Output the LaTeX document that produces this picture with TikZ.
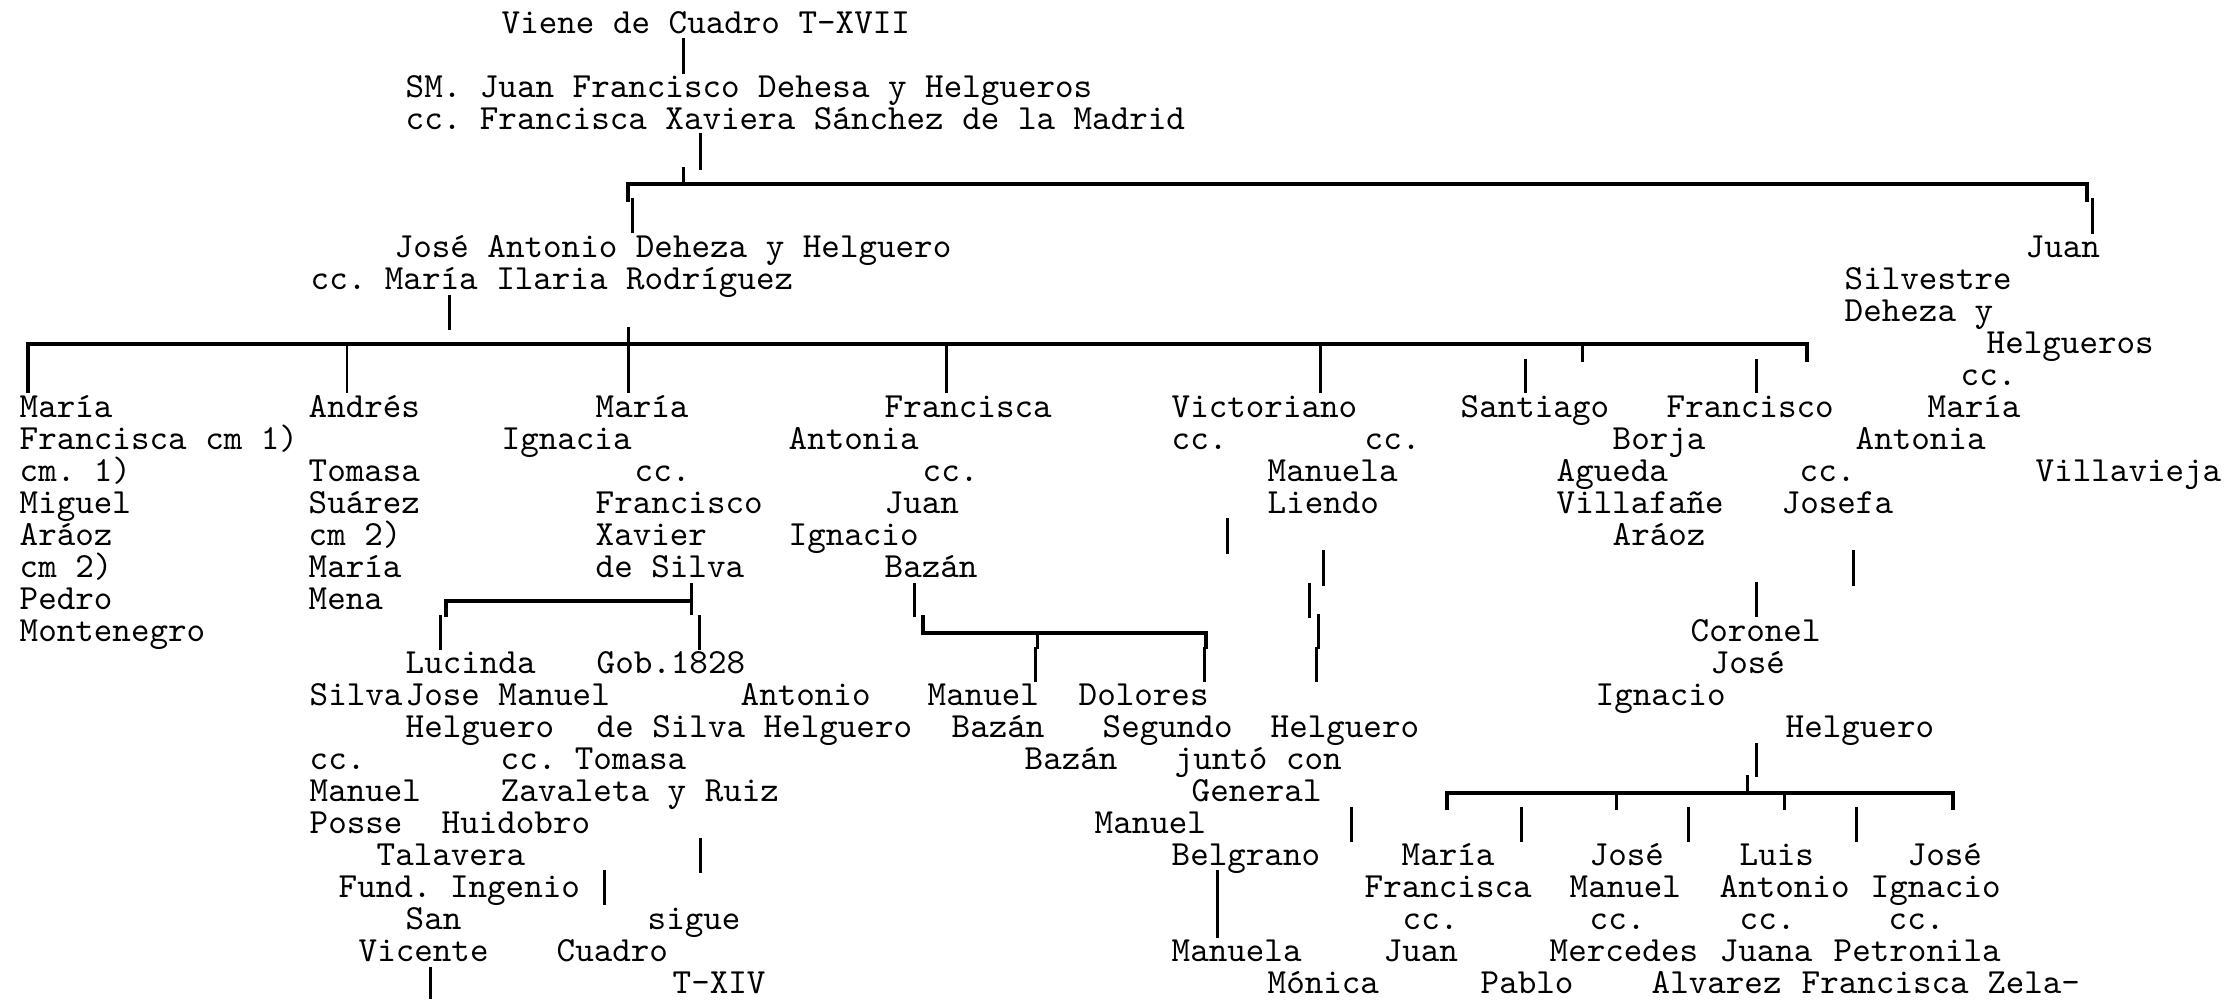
\documentclass[tikz,border=0pt]{standalone}
\usepackage{fontspec}
\usepackage{tikz}
\usepackage{xcolor}

\tikzset{
  nm/.style={anchor=base west, inner sep=0pt, font=\ttfamily\frenchspacing\fontsize{10.05pt}{12pt}\selectfont},
  stub/.style={line width=0.85pt},
  bus/.style={line width=1.1pt, line join=miter}
}

\begin{document}
\begin{tikzpicture}[x=0.01cm, y=-0.01cm]
    \useasboundingbox (0,0) rectangle (2230,999);

    % Head of the table
    \node[nm] (viene) at (501,33) {Viene de Cuadro T-XVII};
    \node[nm] (sm) at (405,97) {SM. Juan Francisco Dehesa y Helgueros};
    \node[nm] (smcc) at (405,129) {cc. Francisca Xaviera Sánchez de la Madrid};
    \draw[stub] (683,38) -- (683,74);
    \draw[stub] (700,133) -- (700,170);
    \draw[stub] (683,167) -- (683,184);
    \coordinate (topL) at (628,184);
    \coordinate (topR) at (2087,184);
    \draw[bus] (628,202) -- (topL) -- (topR) -- (2087,202);
    \draw[stub] (632,198) -- (632,233);
    \draw[stub] (2092,198) -- (2092,234);

    % Jose Antonio and Juan Silvestre
    \node[nm] (joseant) at (394,257) {José Antonio Deheza y Helguero};
    \node[nm] (joseantcc) at (310,289) {cc. María Ilaria Rodríguez};
    \node[nm] (juan1) at (2025,257) {Juan};
    \node[nm] (juan2) at (1844,289) {Silvestre};
    \node[nm] (juan3) at (1844,321) {Deheza y};
    \node[nm] (juan4) at (1986,353) {Helgueros};
    \node[nm] (juan5) at (1960,385) {cc.};
    \node[nm] (juan6) at (1927,417) {María};
    \node[nm] (juan7) at (1855,449) {Antonia};
    \node[nm] (juan8) at (2035,481) {Villavieja};
    \draw[stub] (449,295) -- (449,330);
    \draw[stub] (628,327) -- (628,393);
    \coordinate (midL) at (28,344);
    \coordinate (midR) at (1807,344);
    \draw[bus] (28,393) -- (midL) -- (midR) -- (1807,362);
    \foreach \x in {347,946,1320} \draw[stub] (\x,344) -- (\x,393);
    \draw[stub] (1582,344) -- (1582,362);
    \foreach \x in {1525,1756} \draw[stub] (\x,359) -- (\x,393);

    % Maria Francisca
    \node[nm] (mf1) at (19,417) {María};
    \node[nm] (mf2) at (19,449) {Francisca cm 1)};
    \node[nm] (mf3) at (19,481) {cm. 1)};
    \node[nm] (mf4) at (19,513) {Miguel};
    \node[nm] (mf5) at (19,545) {Aráoz};
    \node[nm] (mf6) at (19,577) {cm 2)};
    \node[nm] (mf7) at (19,609) {Pedro};
    \node[nm] (mf8) at (19,641) {Montenegro};

    % Andres
    \node[nm] (an1) at (308,417) {Andrés};
    \node[nm] (an2) at (308,481) {Tomasa};
    \node[nm] (an3) at (308,513) {Suárez};
    \node[nm] (an4) at (308,545) {cm 2)};
    \node[nm] (an5) at (308,577) {María};
    \node[nm] (an6) at (308,609) {Mena};

    % Maria Ignacia
    \node[nm] (mi1) at (595,417) {María};
    \node[nm] (mi2) at (501,449) {Ignacia};
    \node[nm] (mi3) at (634,481) {cc.};
    \node[nm] (mi4) at (595,513) {Francisco};
    \node[nm] (mi5) at (595,545) {Xavier};
    \node[nm] (mi6) at (595,577) {de Silva};
    \draw[stub] (691,583) -- (691,615);
    \draw[bus] (446,617) -- (446,601) -- (691,601);
    \draw[stub] (440,615) -- (440,650);
    \draw[stub] (699,615) -- (699,650);

    % Silva children
    \node[nm] (lu1) at (405,673) {Lucinda};
    \node[nm] (lu2) at (309,705) {Silva};
    \node[nm] (jm1) at (405,705) {Jose Manuel};
    \node[nm] (jm2) at (405,737) {Helguero};
    \node[nm] (lu3) at (309,769) {cc.};
    \node[nm] (lu4) at (309,801) {Manuel};
    \node[nm] (lu5) at (309,833) {Posse};
    \node[nm] (jm3) at (441,833) {Huidobro};
    \node[nm] (jm4) at (376,865) {Talavera};
    \node[nm] (jm5) at (338,897) {Fund. Ingenio};
    \node[nm] (jm6) at (405,929) {San};
    \node[nm] (jm7) at (358,961) {Vicente};
    \node[nm] (ga1) at (596,673) {Gob.1828};
    \node[nm] (ga2) at (740,705) {Antonio};
    \node[nm] (ga3) at (596,737) {de Silva Helguero};
    \node[nm] (ga4) at (500,769) {cc. Tomasa};
    \node[nm] (ga5) at (500,801) {Zavaleta y Ruiz};
    \node[nm] (ga6) at (647,929) {sigue};
    \node[nm] (ga7) at (556,961) {Cuadro};
    \node[nm] (ga8) at (672,993) {T-XIV};
    \draw[stub] (700,838) -- (700,873);
    \draw[stub] (604,870) -- (604,905);
    \draw[stub] (430,967) -- (430,999);

    % Francisca Antonia
    \node[nm] (fa1) at (884,417) {Francisca};
    \node[nm] (fa2) at (788,449) {Antonia};
    \node[nm] (fa3) at (922,481) {cc.};
    \node[nm] (fa4) at (884,513) {Juan};
    \node[nm] (fa5) at (788,545) {Ignacio};
    \node[nm] (fa6) at (884,577) {Bazán};
    \draw[stub] (914,583) -- (914,617);
    \draw[bus] (923,615) -- (923,633) -- (1206,633) -- (1206,649);
    \draw[stub] (1037,633) -- (1037,649);
    \draw[stub] (1035,647) -- (1035,682);
    \draw[stub] (1204,647) -- (1204,682);
    \node[nm] (mb1) at (927,705) {Manuel};
    \node[nm] (mb2) at (951,737) {Bazán};
    \node[nm] (db1) at (1078,705) {Dolores};
    \node[nm] (db2) at (1102,737) {Segundo};
    \node[nm] (db3) at (1024,769) {Bazán};
    \node[nm] (db4) at (1174,769) {juntó con};
    \node[nm] (db5) at (1191,801) {General};
    \node[nm] (db6) at (1094,833) {Manuel};
    \node[nm] (db7) at (1171,865) {Belgrano};
    \draw[stub] (1217,870) -- (1217,938);
    \node[nm] (mm1) at (1171,961) {Manuela};
    \node[nm] (mm2) at (1267,993) {Mónica};

    % Victoriano
    \node[nm] (vi1) at (1171,417) {Victoriano};
    \node[nm] (vi2) at (1171,449) {cc.};
    \node[nm] (vi3) at (1364,449) {cc.};
    \node[nm] (vi4) at (1267,481) {Manuela};
    \node[nm] (vi5) at (1267,513) {Liendo};
    \draw[stub] (1227,518) -- (1227,554);
    \draw[stub] (1323,550) -- (1323,586);
    \draw[stub] (1309,583) -- (1309,618);
    \draw[stub] (1318,614) -- (1318,649);
    \draw[stub] (1316,647) -- (1316,682);
    \node[nm] (vh) at (1270,737) {Helguero};
    \draw[stub] (1351,807) -- (1351,842);

    % Santiago and Francisco Borja
    \node[nm] (sa) at (1460,417) {Santiago};
    \node[nm] (fb1) at (1666,417) {Francisco};
    \node[nm] (fb2) at (1612,449) {Borja};
    \node[nm] (fb3) at (1556,481) {Agueda};
    \node[nm] (fb4) at (1556,513) {Villafañe};
    \node[nm] (fb5) at (1612,545) {Aráoz};
    \node[nm] (fb6) at (1799,481) {cc.};
    \node[nm] (fb7) at (1781,513) {Josefa};
    \draw[stub] (1853,550) -- (1853,586);
    \draw[stub] (1756,582) -- (1756,617);

    % Coronel Jose Ignacio
    \node[nm] (co1) at (1690,641) {Coronel};
    \node[nm] (co2) at (1710,673) {José};
    \node[nm] (co3) at (1595,705) {Ignacio};
    \node[nm] (co4) at (1785,737) {Helguero};
    \draw[stub] (1756,743) -- (1756,777);
    \draw[stub] (1747,775) -- (1747,793);
    \coordinate (lowL) at (1447,793);
    \coordinate (lowR) at (1953,793);
    \draw[bus] (1447,810) -- (lowL) -- (lowR) -- (1953,810);
    \foreach \x in {1616,1784} \draw[stub] (\x,793) -- (\x,810);
    \foreach \x in {1521,1688,1856} \draw[stub] (\x,807) -- (\x,842);

    \node[nm] (ch1) at (1401,865) {María};
    \node[nm] (ch2) at (1364,897) {Francisca};
    \node[nm] (ch3) at (1402,929) {cc.};
    \node[nm] (ch4) at (1383,961) {Juan};
    \node[nm] (ch5) at (1480,993) {Pablo};
    \node[nm] (jo1) at (1589,865) {José};
    \node[nm] (jo2) at (1569,897) {Manuel};
    \node[nm] (jo3) at (1589,929) {cc.};
    \node[nm] (jo4) at (1549,961) {Mercedes};
    \node[nm] (jo5) at (1651,993) {Alvarez};
    \node[nm] (lu6) at (1739,865) {Luis};
    \node[nm] (lu7) at (1719,897) {Antonio};
    \node[nm] (lu8) at (1739,929) {cc.};
    \node[nm] (lu9) at (1719,961) {Juana};
    \node[nm] (ji1) at (1907,865) {José};
    \node[nm] (ji2) at (1870,897) {Ignacio};
    \node[nm] (ji3) at (1888,929) {cc.};
    \node[nm] (ji4) at (1833,961) {Petronila};
    \node[nm] (ji5) at (1801,993) {Francisca Zela-};
\end{tikzpicture}
\end{document}
